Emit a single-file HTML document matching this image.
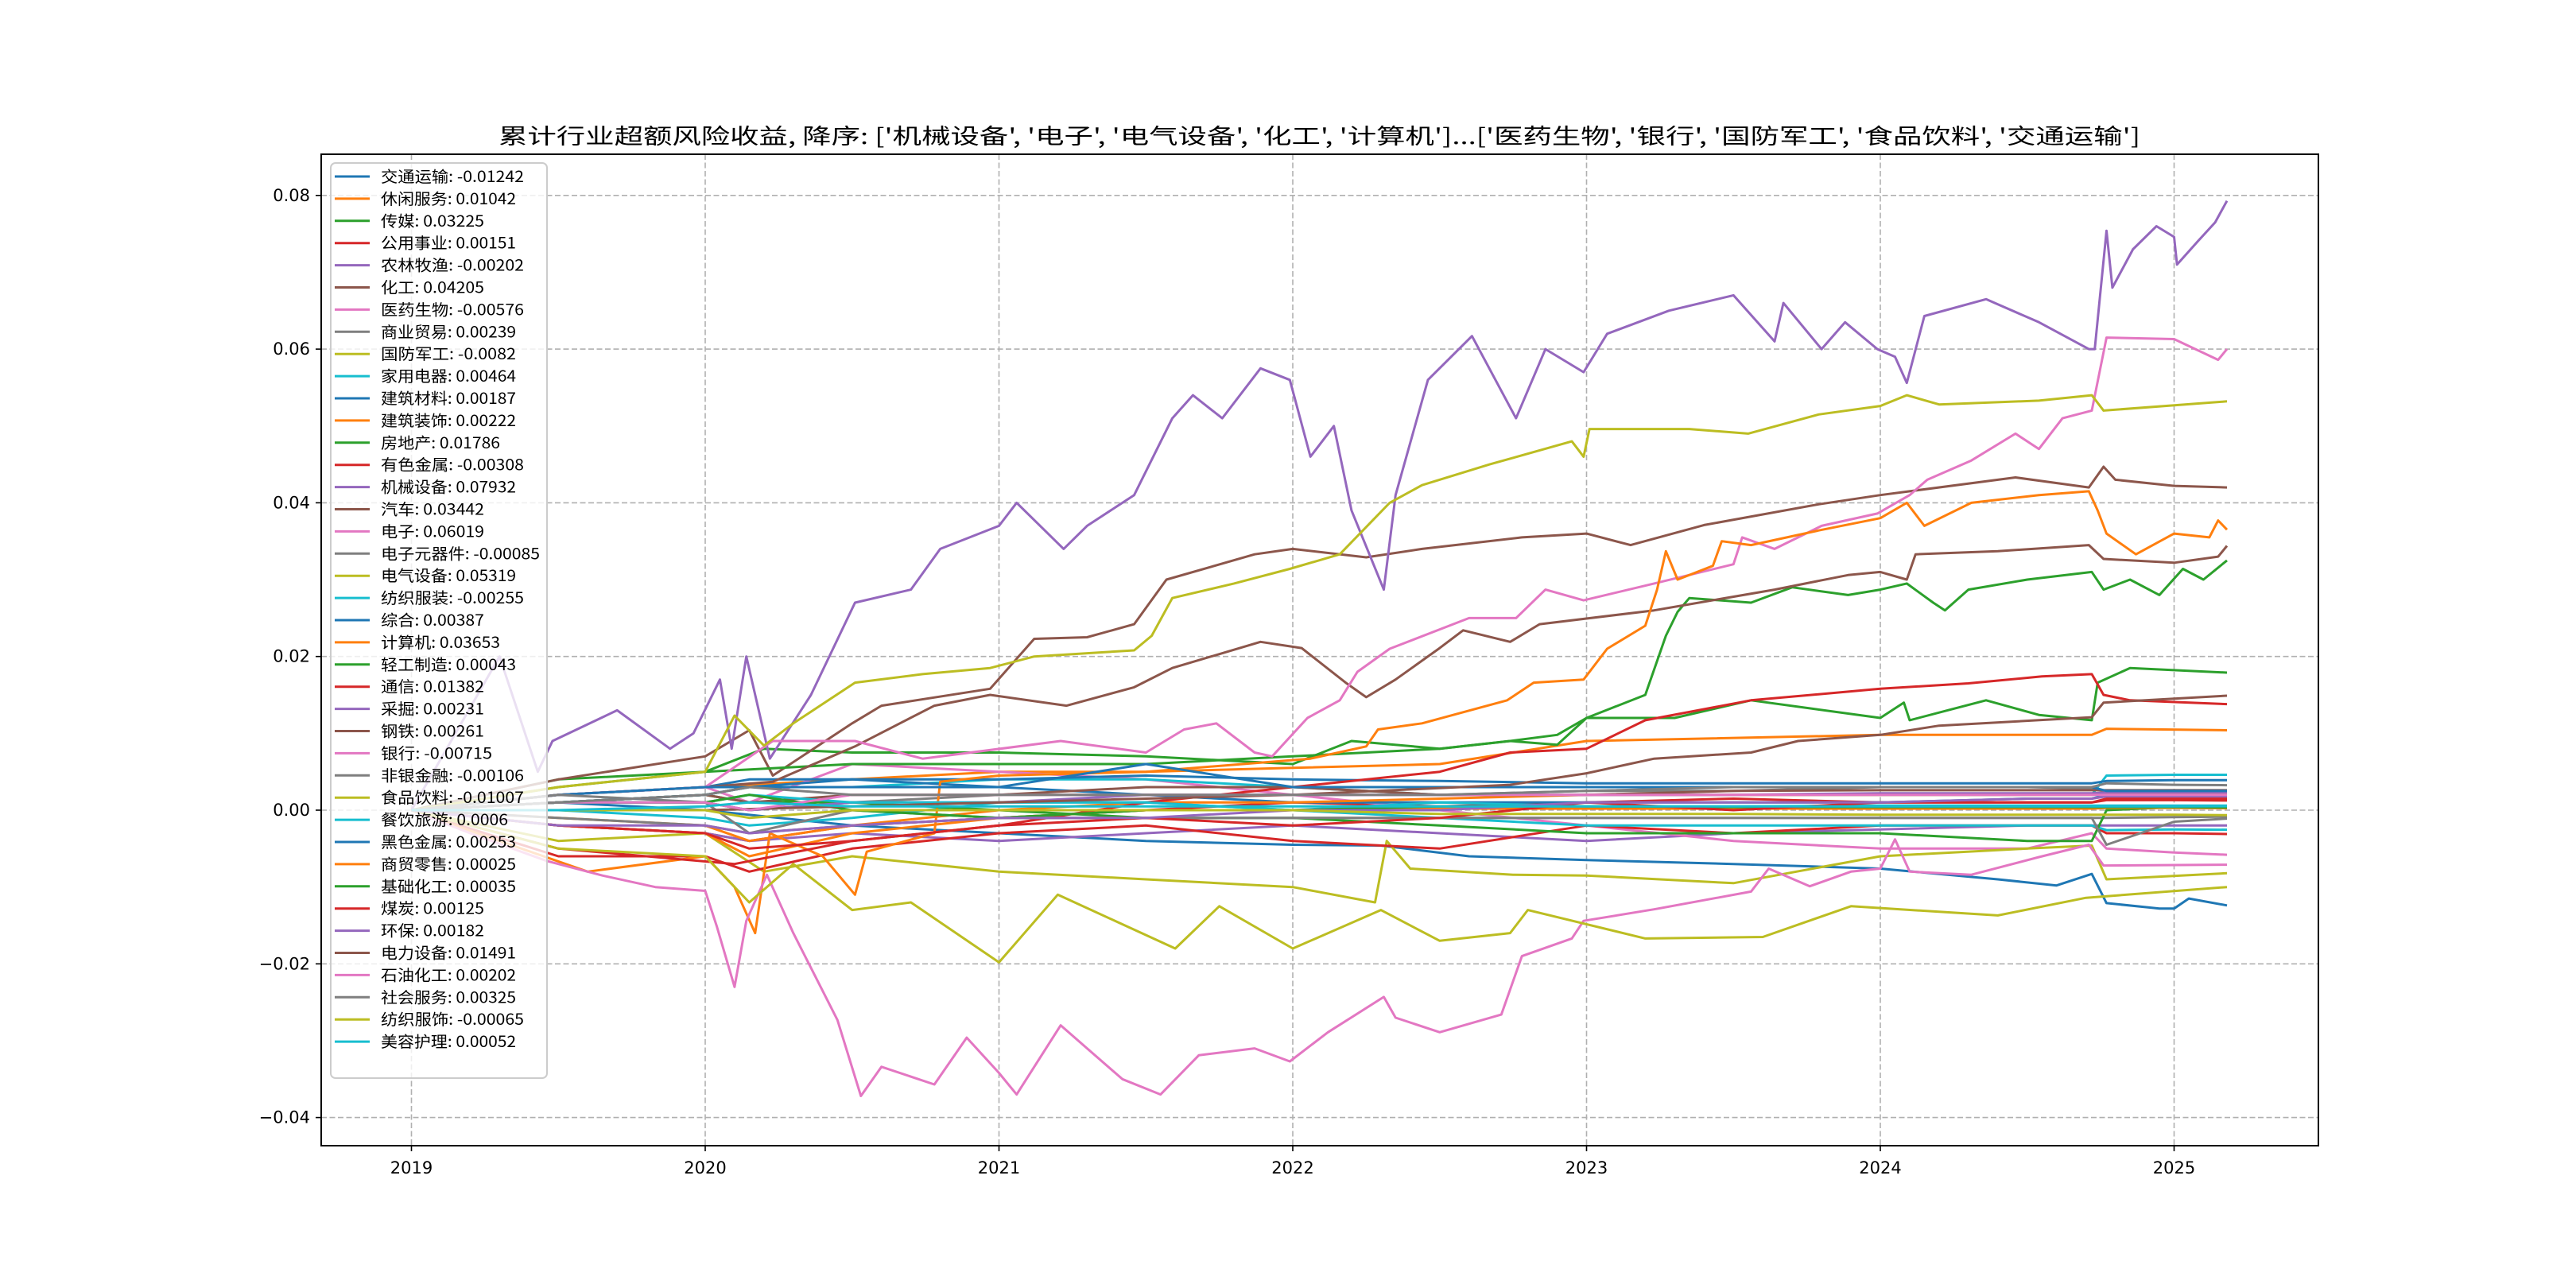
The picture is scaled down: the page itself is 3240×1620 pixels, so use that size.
<!DOCTYPE html>
<html><head><meta charset="utf-8"><style>
html,body{margin:0;padding:0;background:#fff;}
svg{display:block;}
</style></head><body>
<svg id="chart" width="3240" height="1620" viewBox="0 0 3240 1620" xmlns="http://www.w3.org/2000/svg">
<rect width="3240" height="1620" fill="#fff"/>
<text x="627" y="181" font-size="27" textLength="2065" lengthAdjust="spacingAndGlyphs" font-family="'WenQuanYi Zen Hei','Noto Sans CJK SC',sans-serif" fill="#000">累计行业超额风险收益,  降序: ['机械设备', '电子', '电气设备', '化工', '计算机']...['医药生物', '银行', '国防军工', '食品饮料', '交通运输']</text>
<g id="grid"></g>
<g id="series" clip-path="url(#clip)"></g>
<defs><clipPath id="clip"><rect x="404" y="194" width="2512" height="1247"/></clipPath></defs>
<rect x="404" y="194" width="2512" height="1247" fill="none" stroke="#000" stroke-width="2"/>
<g id="axes"></g>
<g id="legend"></g>
</svg>
<script>
const seriesNames=['交通运输','休闲服务','传媒','公用事业','农林牧渔','化工','医药生物','商业贸易','国防军工','家用电器','建筑材料','建筑装饰','房地产','有色金属','机械设备','汽车','电子','电子元器件','电气设备','纺织服装','综合','计算机','轻工制造','通信','采掘','钢铁','银行','非银金融','食品饮料','餐饮旅游','黑色金属','商贸零售','基础化工','煤炭','环保','电力设备','石油化工','社会服务','纺织服饰','美容护理'];
const finalLabels=['-0.01242','0.01042','0.03225','0.00151','-0.00202','0.04205','-0.00576','0.00239','-0.0082','0.00464','0.00187','0.00222','0.01786','-0.00308','0.07932','0.03442','0.06019','-0.00085','0.05319','-0.00255','0.00387','0.03653','0.00043','0.01382','0.00231','0.00261','-0.00715','-0.00106','-0.01007','0.0006','0.00253','0.00025','0.00035','0.00125','0.00182','0.01491','0.00202','0.00325','-0.00065','0.00052'];
const smallDates=[2019.0,2019.5,2020.0,2020.15,2020.5,2021.0,2021.5,2022.0,2022.5,2023.0,2023.5,2024.0,2024.5,2024.72,2024.77,2025.0,2025.18];
const yTicks=[-0.04,-0.02,0,0.02,0.04,0.06,0.08];
const yTickLabels=['\u22120.04','\u22120.02','0.00','0.02','0.04','0.06','0.08'];
const xTicks=[2019,2020,2021,2022,2023,2024,2025];
const xTickLabels=['2019','2020','2021','2022','2023','2024','2025'];
const seriesDates=[
[2019,2019.5,2020,2020.5,2021,2021.5,2022,2022.3,2022.6,2023,2023.5,2024,2024.4,2024.6,2024.72,2024.77,2024.95,2025.0,2025.05,2025.18],
[2019,2019.5,2020,2020.5,2021,2021.5,2022,2022.5,2023,2024,2024.72,2024.77,2025.18],
[2019,2019.5,2020,2020.2,2020.5,2021,2021.5,2022,2022.2,2022.5,2022.74,2022.9,2023,2023.2,2023.27,2023.31,2023.35,2023.56,2023.7,2023.89,2024.0,2024.09,2024.18,2024.22,2024.3,2024.5,2024.72,2024.76,2024.85,2024.95,2025.03,2025.1,2025.18],
null,null,
[2019,2019.5,2020,2020.15,2020.23,2020.5,2020.6,2020.97,2021.12,2021.3,2021.46,2021.57,2021.87,2022.0,2022.25,2022.44,2022.78,2023.0,2023.15,2023.4,2023.79,2024.0,2024.46,2024.71,2024.76,2024.8,2025.0,2025.18],
null,null,
[2019,2019.5,2020,2020.2,2020.5,2021,2021.5,2022,2022.28,2022.32,2022.4,2022.75,2023,2023.5,2024,2024.5,2024.72,2024.77,2025.18],
null,null,null,
[2019,2019.5,2020,2020.5,2021,2021.5,2022,2022.5,2022.74,2022.9,2023,2023.3,2023.56,2024,2024.08,2024.1,2024.36,2024.54,2024.72,2024.74,2024.85,2025.18],
null,
[2019,2019.15,2019.3,2019.43,2019.48,2019.7,2019.88,2019.96,2020.05,2020.09,2020.14,2020.22,2020.36,2020.51,2020.7,2020.8,2021.0,2021.06,2021.22,2021.3,2021.46,2021.59,2021.66,2021.76,2021.89,2021.99,2022.06,2022.14,2022.2,2022.31,2022.35,2022.46,2022.61,2022.76,2022.86,2022.99,2023.07,2023.28,2023.5,2023.64,2023.67,2023.8,2023.88,2023.99,2024.05,2024.09,2024.15,2024.36,2024.54,2024.71,2024.73,2024.77,2024.79,2024.86,2024.94,2025.0,2025.01,2025.08,2025.14,2025.18],
[2019,2019.5,2020,2020.23,2020.51,2020.78,2020.97,2021.23,2021.46,2021.59,2021.89,2022.03,2022.18,2022.25,2022.35,2022.5,2022.58,2022.74,2022.84,2023.23,2023.64,2023.89,2024.0,2024.09,2024.12,2024.4,2024.71,2024.76,2025.0,2025.15,2025.18],
[2019,2019.5,2020,2020.23,2020.51,2020.74,2021.21,2021.5,2021.63,2021.74,2021.87,2021.93,2022.05,2022.16,2022.22,2022.33,2022.6,2022.76,2022.86,2022.99,2023.23,2023.5,2023.53,2023.64,2023.8,2023.99,2024.1,2024.16,2024.31,2024.46,2024.54,2024.62,2024.72,2024.77,2025.0,2025.15,2025.18],
null,
[2019,2019.5,2020,2020.1,2020.2,2020.3,2020.51,2020.74,2020.97,2021.12,2021.46,2021.52,2021.59,2021.8,2021.99,2022.16,2022.33,2022.44,2022.67,2022.95,2022.99,2023.01,2023.35,2023.55,2023.79,2024.0,2024.09,2024.2,2024.54,2024.72,2024.76,2025.18],
null,null,
[2019,2019.3,2019.6,2020,2020.1,2020.17,2020.22,2020.4,2020.51,2020.55,2020.78,2020.8,2021.0,2021.5,2022.06,2022.25,2022.29,2022.44,2022.73,2022.82,2022.99,2023.07,2023.2,2023.24,2023.27,2023.31,2023.43,2023.46,2023.56,2023.79,2024.0,2024.09,2024.15,2024.31,2024.54,2024.71,2024.74,2024.77,2024.87,2025.0,2025.12,2025.15,2025.18],
null,
[2019,2019.5,2020.1,2020.5,2021,2021.5,2022,2022.5,2022.74,2023,2023.2,2023.56,2024,2024.3,2024.55,2024.72,2024.76,2024.85,2025.18],
null,null,
[2019,2019.2,2019.46,2019.65,2019.83,2020,2020.04,2020.1,2020.14,2020.21,2020.3,2020.45,2020.53,2020.6,2020.78,2020.89,2021,2021.06,2021.21,2021.3,2021.42,2021.55,2021.68,2021.87,2021.99,2022.12,2022.31,2022.35,2022.5,2022.71,2022.78,2022.95,2022.99,2023.23,2023.56,2023.62,2023.76,2023.9,2024.0,2024.05,2024.1,2024.31,2024.54,2024.71,2024.76,2025.18],
null,
[2019,2019.5,2020,2020.15,2020.3,2020.5,2020.7,2021,2021.2,2021.4,2021.6,2021.75,2022,2022.3,2022.5,2022.74,2022.8,2023.2,2023.6,2023.9,2024.4,2024.7,2025.18],
null,null,null,null,null,null,
[2019,2020,2021,2022,2022.74,2023,2023.23,2023.56,2023.72,2024,2024.2,2024.72,2024.76,2025.18],
null,null,null,null
];
const seriesValues=[
[0,0.001,0,-0.002,-0.003,-0.004,-0.0045,-0.0046,-0.006,-0.0065,-0.007,-0.0076,-0.009,-0.0098,-0.0083,-0.0121,-0.0128,-0.0128,-0.0115,-0.0124],
[0,0.002,0.003,0.004,0.005,0.005,0.0055,0.006,0.009,0.0098,0.0098,0.0106,0.0104],
[0,0.004,0.005,0.008,0.0075,0.0075,0.007,0.006,0.009,0.008,0.009,0.0098,0.012,0.015,0.0227,0.0258,0.0276,0.027,0.029,0.028,0.0287,0.0295,0.027,0.026,0.0287,0.030,0.031,0.0287,0.030,0.028,0.0314,0.030,0.0325],
[0,-0.002,-0.003,-0.004,-0.002,-0.001,0,0.001,0.0005,0.001,0.0015,0.001,0.001,0.001,0.0015,0.0015,0.0015],
[0,-0.002,-0.003,-0.004,-0.003,-0.004,-0.003,-0.002,-0.003,-0.004,-0.003,-0.0025,-0.002,-0.002,-0.002,-0.002,-0.002],
[0,0.004,0.007,0.0104,0.0045,0.0113,0.0136,0.0158,0.0223,0.0225,0.0242,0.030,0.0333,0.034,0.0329,0.034,0.0355,0.036,0.0345,0.0371,0.0398,0.041,0.0433,0.042,0.0447,0.043,0.0422,0.042],
[0,0.002,0.003,0.001,0.006,0.005,0.004,0.002,0.0,-0.002,-0.004,-0.005,-0.005,-0.003,-0.005,-0.0055,-0.0058],
[0,0.001,0.001,0,0.001,0.002,0.002,0.002,0.002,0.0025,0.0025,0.003,0.003,0.0028,0.0024,0.0024,0.0024],
[0,-0.004,-0.003,-0.008,-0.006,-0.008,-0.009,-0.010,-0.012,-0.004,-0.0076,-0.0084,-0.0085,-0.0095,-0.006,-0.005,-0.0046,-0.009,-0.0082],
[0,0.001,0.002,0.003,0.003,0.004,0.004,0.003,0.002,0.002,0.002,0.002,0.002,0.002,0.0045,0.0046,0.0046],
[0,0.002,0.003,0.004,0.004,0.003,0.002,0.001,0.001,0.001,0.001,0.001,0.0015,0.0015,0.002,0.0019,0.0019],
[0,-0.001,-0.002,-0.004,-0.002,0.0,0.001,0.001,0.0015,0.002,0.002,0.002,0.002,0.002,0.0022,0.0022,0.0022],
[0,0.003,0.005,0.006,0.006,0.006,0.007,0.008,0.009,0.0085,0.012,0.012,0.0143,0.012,0.0140,0.0117,0.0143,0.0124,0.0117,0.0166,0.0185,0.0179],
[0,-0.006,-0.006,-0.008,-0.005,-0.003,-0.002,-0.004,-0.005,-0.002,-0.003,-0.002,-0.002,-0.002,-0.003,-0.003,-0.0031],
[0,0.01,0.02,0.005,0.009,0.013,0.008,0.010,0.017,0.008,0.020,0.0067,0.015,0.027,0.0287,0.034,0.037,0.040,0.034,0.037,0.041,0.051,0.054,0.051,0.0575,0.056,0.046,0.050,0.039,0.0287,0.041,0.056,0.0617,0.051,0.060,0.057,0.062,0.065,0.067,0.061,0.066,0.060,0.0635,0.060,0.059,0.0556,0.0643,0.0665,0.0635,0.060,0.060,0.0754,0.068,0.073,0.076,0.0746,0.071,0.074,0.0765,0.0793],
[0,0.002,0.003,0.0037,0.0083,0.0136,0.015,0.0136,0.016,0.0185,0.0219,0.0211,0.0166,0.0147,0.017,0.0211,0.0234,0.0219,0.0242,0.026,0.0287,0.0306,0.031,0.030,0.0333,0.0337,0.0345,0.0327,0.0322,0.033,0.0344],
[0,0.002,0.003,0.009,0.009,0.0067,0.009,0.0075,0.0105,0.0113,0.0075,0.007,0.012,0.0143,0.018,0.021,0.025,0.025,0.0287,0.0273,0.0295,0.032,0.0355,0.034,0.037,0.0386,0.041,0.043,0.0455,0.049,0.047,0.051,0.052,0.0615,0.0613,0.0586,0.060],
[0,-0.001,-0.002,-0.003,-0.002,-0.001,-0.001,-0.001,-0.001,-0.001,-0.001,-0.001,-0.001,-0.001,-0.001,-0.0009,-0.00085],
[0,0.003,0.005,0.0123,0.0084,0.0113,0.0166,0.0177,0.0185,0.020,0.0208,0.0227,0.0276,0.0295,0.0314,0.0333,0.040,0.0423,0.045,0.048,0.046,0.0496,0.0496,0.049,0.0515,0.0526,0.054,0.0528,0.0533,0.054,0.052,0.0532],
[0,0,-0.001,-0.002,-0.001,0.001,0.001,0.0,-0.001,-0.002,-0.002,-0.002,-0.002,-0.002,-0.0026,-0.0025,-0.00255],
[0,0.002,0.003,0.003,0.004,0.004,0.0045,0.004,0.0038,0.0035,0.0035,0.0035,0.0035,0.0035,0.0038,0.0039,0.0039],
[0,-0.004,-0.008,-0.006,-0.010,-0.016,-0.003,-0.006,-0.011,-0.0054,-0.003,0.0037,0.0045,0.005,0.0067,0.0083,0.0105,0.0113,0.0143,0.0166,0.017,0.021,0.024,0.0287,0.0337,0.030,0.0318,0.035,0.0345,0.0364,0.038,0.040,0.037,0.040,0.041,0.0415,0.039,0.036,0.0333,0.036,0.0355,0.0377,0.0365],
[0,0.001,0.002,0.001,0.001,0.0,-0.001,-0.001,-0.002,-0.003,-0.003,-0.003,-0.004,-0.004,0.0,0.0004,0.0004],
[0,-0.005,-0.007,-0.004,-0.002,0.001,0.003,0.005,0.0075,0.008,0.0117,0.0143,0.0158,0.0165,0.0174,0.0177,0.015,0.0143,0.0138],
[0,0.001,0.001,0,0.001,0.001,0.002,0.002,0.002,0.002,0.002,0.0022,0.0022,0.0022,0.0023,0.0023,0.0023],
[0,0.001,0.002,0.001,0.002,0.002,0.003,0.003,0.002,0.002,0.0025,0.0026,0.0026,0.0026,0.0026,0.0026,0.0026],
[0,-0.003,-0.0066,-0.0085,-0.010,-0.0105,-0.0152,-0.023,-0.0144,-0.0084,-0.016,-0.0273,-0.0372,-0.0334,-0.0357,-0.0296,-0.0342,-0.037,-0.028,-0.031,-0.035,-0.037,-0.0319,-0.031,-0.0327,-0.0289,-0.0243,-0.027,-0.0289,-0.0266,-0.019,-0.0167,-0.0144,-0.0129,-0.0106,-0.0076,-0.0099,-0.008,-0.0076,-0.0038,-0.008,-0.0084,-0.0061,-0.0045,-0.0072,-0.0071],
[0,0.002,0.001,-0.003,0.0,-0.001,-0.001,-0.001,-0.001,-0.001,-0.001,-0.001,-0.001,-0.001,-0.0045,-0.0015,-0.0011],
[0,-0.005,-0.006,-0.012,-0.007,-0.013,-0.012,-0.0198,-0.011,-0.0145,-0.018,-0.0125,-0.018,-0.013,-0.017,-0.016,-0.013,-0.0167,-0.0165,-0.0125,-0.0137,-0.0114,-0.0100],
[0,0.001,0.001,0.002,0.001,0.001,0.001,0.0,0.001,0.0005,0.0005,0.0006,0.0006,0.0006,0.0006,0.0006,0.0006],
[0,0.001,0.002,0.003,0.003,0.003,0.006,0.003,0.003,0.003,0.003,0.003,0.003,0.003,0.0025,0.0025,0.0025],
[0,-0.002,-0.003,-0.006,-0.003,-0.001,0.0,0.0,0.0002,0.0002,0.0002,0.0002,0.0002,0.0002,0.0003,0.0003,0.00025],
[0,0.001,0.001,0.002,0.0,-0.001,0.0,0.0,0.0005,0.0005,0.0004,0.0004,0.0004,0.0004,0.0004,0.0004,0.00035],
[0,-0.002,-0.003,-0.005,-0.004,-0.002,-0.001,-0.002,-0.001,0.001,0.0,0.001,0.001,0.001,0.0013,0.0013,0.00125],
[0,-0.002,-0.002,-0.003,-0.002,-0.001,-0.001,0,0,0.001,0.001,0.001,0.0015,0.0015,0.0018,0.0018,0.0018],
[0,0,0.001,0.002,0.0033,0.0048,0.0067,0.0075,0.009,0.0098,0.011,0.0121,0.014,0.0149],
[0,0.001,0.001,0.0,0.002,0.002,0.002,0.002,0.002,0.002,0.002,0.002,0.002,0.002,0.002,0.002,0.002],
[0,0.001,0.002,0.003,0.002,0.002,0.002,0.002,0.002,0.0025,0.003,0.003,0.003,0.003,0.0035,0.0033,0.00325],
[0,0,0,-0.001,0,0,0,0,-0.0005,-0.0005,-0.0005,-0.0006,-0.0006,-0.0006,-0.0006,-0.0006,-0.00065],
[0,0,0.0005,0.001,0.0005,0.0005,0.0005,0.0005,0.0005,0.0005,0.0005,0.0005,0.0005,0.0005,0.0005,0.0005,0.00052]
];
const palette=['#1f77b4','#ff7f0e','#2ca02c','#d62728','#9467bd','#8c564b','#e377c2','#7f7f7f','#bcbd22','#17becf'];
const NS='http://www.w3.org/2000/svg';
const X0=517.5, XPY=369.5, Y0=1019, YPU=9665;
function xScale(t){return X0+(t-2019)*XPY;}
function yScale(v){return Y0-v*YPU;}
function mk(tag,attrs,parent){const e=document.createElementNS(NS,tag);for(const k in attrs)e.setAttribute(k,attrs[k]);parent.appendChild(e);return e;}
const grid=document.getElementById('grid'),axes=document.getElementById('axes'),sg=document.getElementById('series'),lg=document.getElementById('legend');
xTicks.forEach((t,i)=>{
  const x=xScale(t);
  const gl=mk('line',{x1:x,x2:x,y1:194,y2:1441,stroke:'#b0b0b0','stroke-width':1.6,'stroke-dasharray':'7,3.5'},grid);
  
  
  const tk=mk('line',{x1:x,x2:x,y1:1441,y2:1448,stroke:'#000','stroke-width':1.6},axes);
  
  
  const tx=mk('text',{x:x,y:1476,'text-anchor':'middle','font-size':21,'font-family':'DejaVu Sans, sans-serif',fill:'#000'},axes);
  tx.textContent=xTickLabels[i];
  
  
});
yTicks.forEach((v,i)=>{
  const y=yScale(v);
  const gl=mk('line',{x1:404,x2:2916,y1:y,y2:y,stroke:'#b0b0b0','stroke-width':1.6,'stroke-dasharray':'7,3.5'},grid);
  
  
  const tk=mk('line',{x1:397,x2:404,y1:y,y2:y,stroke:'#000','stroke-width':1.6},axes);
  
  
  const tx=mk('text',{x:390,y:y+7,'text-anchor':'end','font-size':21,'font-family':'DejaVu Sans, sans-serif',fill:'#000'},axes);
  tx.textContent=yTickLabels[i];
  
  
});
seriesNames.forEach((n,i)=>{
  const ts=seriesDates[i]||smallDates, vs=seriesValues[i];
  const m=Math.min(ts.length,vs.length);
  let d='';
  for(let k=0;k<m;k++){d+=(k?'L':'M')+xScale(ts[k]).toFixed(1)+','+yScale(vs[k]).toFixed(1);}
  const p=mk('path',{d:d,fill:'none',stroke:palette[i%10],'stroke-width':3,'stroke-linejoin':'round'},sg);
  
  
});
const lb=mk('rect',{x:416,y:205,width:272,height:1151,rx:6,fill:'#fff','fill-opacity':0.8,stroke:'#cccccc','stroke-width':2},lg);


seriesNames.forEach((n,i)=>{
  const y=222+i*27.9;
  const h=mk('line',{x1:421,x2:465,y1:y,y2:y,stroke:palette[i%10],'stroke-width':3},lg);
  
  
  const label=n+': '+finalLabels[i];
  const w=n.length*20+(label.length-n.length)*10;
  const t=mk('text',{x:479,y:y+7,'font-size':19.5,'font-family':"'WenQuanYi Zen Hei','Noto Sans CJK SC',sans-serif",fill:'#000',textLength:w,lengthAdjust:'spacingAndGlyphs'},lg);
  t.textContent=label;
  
  
});
</script>
</body></html>
